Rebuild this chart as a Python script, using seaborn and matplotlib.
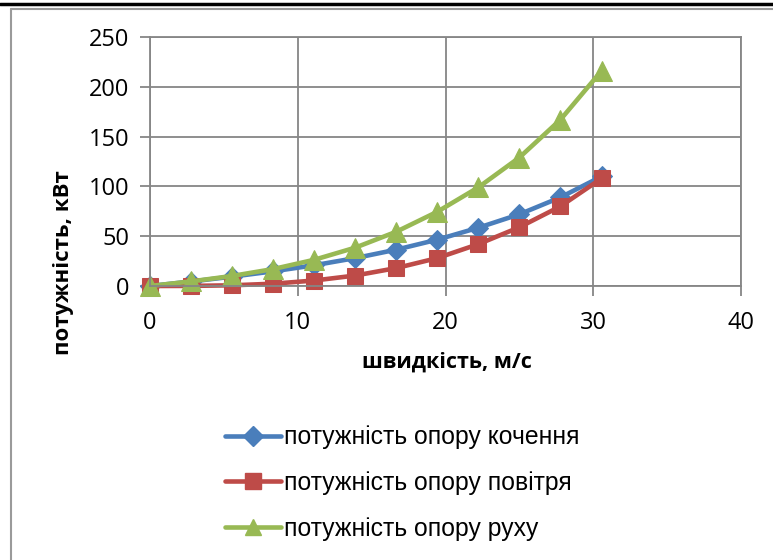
import numpy as np
import pandas as pd
import matplotlib
matplotlib.use('Agg')
import matplotlib.pyplot as plt
import seaborn as sns
from matplotlib.lines import Line2D

# дані
speed = [0, 2.78, 5.56, 8.33, 11.11, 13.89, 16.67, 19.44, 22.22, 25.0, 27.78, 30.56]
p_rolling = [0, 4.5, 9.4, 14.7, 20.8, 28, 36.5, 46.5, 58.5, 72, 89, 110]
p_air = [0, 0.1, 0.7, 2.3, 5.5, 10.5, 18, 28, 42, 59, 80, 108]
p_total = [0, 4.6, 10.1, 17, 26.3, 38.5, 54.5, 74.5, 99, 129, 167, 216]

names = ['потужність опору кочення', 'потужність опору повітря', 'потужність опору руху']
colors = ['#4A7EBB', '#BE4B48', '#98B954']
markers = ['D', 's', '^']
msizes = [10, 12, 14]

df = pd.concat([
    pd.DataFrame({'v': speed, 'P': p_rolling, 'series': names[0]}),
    pd.DataFrame({'v': speed, 'P': p_air, 'series': names[1]}),
    pd.DataFrame({'v': speed, 'P': p_total, 'series': names[2]}),
])

sns.set_style("white")
plt.rcParams['font.family'] = ['Open Sans', 'DejaVu Sans']
plt.rcParams['text.color'] = 'black'
plt.rcParams['xtick.labelcolor'] = 'black'
plt.rcParams['ytick.labelcolor'] = 'black'

fig = plt.figure(figsize=(7.73, 5.6), dpi=100)
ax = fig.add_axes([150 / 773, 1 - 286 / 560, 591 / 773, 249 / 560])

for name, c, m, ms in zip(names, colors, markers, msizes):
    sub = df[df['series'] == name]
    sns.lineplot(data=sub, x='v', y='P', color=c, marker=m, markersize=ms,
                 markeredgecolor=c, linewidth=3.3, ax=ax, legend=False, clip_on=False)

ax.set_xlim(0, 40)
ax.set_ylim(0, 250)
ax.set_xticks([0, 10, 20, 30, 40])
ax.set_yticks([0, 50, 100, 150, 200, 250])
ax.grid(True, color='#868686', linewidth=1.3)
for s in ax.spines.values():
    s.set_color('#868686')
    s.set_linewidth(1.3)
ax.tick_params(axis='both', which='major', labelsize=17, length=7, width=1.3,
               color='#868686', labelcolor='black', direction='out')
ax.tick_params(axis='x', pad=11)
ax.tick_params(axis='y', pad=8)
ax.tick_params(left=True, bottom=True)
ax.set_xlabel('')
ax.set_ylabel('')
ax.set_axisbelow(True)

fig.text(447 / 773, 1 - 362 / 560, 'швидкість, м/с', ha='center', va='center',
         fontsize=15.5, fontweight='bold', color='black')
fig.text(63 / 773, 1 - 263 / 560, 'потужність, кВт', ha='center', va='center',
         fontsize=16, fontweight='bold', rotation=90, color='black')

handles = [Line2D([0], [0], color=c, marker=m, markersize=ms, linewidth=3.3,
                  markeredgecolor=c)
           for c, m, ms in zip(colors, markers, [10, 11, 12])]
fig.legend(handles, names, loc='upper left', bbox_to_anchor=(203 / 773, 1 - 403 / 560),
           frameon=False, handlelength=2.26, handletextpad=0.12,
           labelspacing=0.88, labelcolor='black',
           prop={'family': ['Liberation Sans', 'DejaVu Sans'], 'size': 17.8})

# рамка
fig.add_artist(Line2D([0, 1], [1 - 4 / 560, 1 - 4 / 560], color='black', linewidth=2.5,
                      transform=fig.transFigure))
fig.add_artist(Line2D([11 / 773, 1], [1 - 9 / 560, 1 - 9 / 560], color='#9a9a9a',
                      linewidth=1.5, transform=fig.transFigure))
fig.add_artist(Line2D([11 / 773, 11 / 773], [0, 1 - 9 / 560], color='#9a9a9a',
                      linewidth=1.5, transform=fig.transFigure))

fig.savefig('out.png', dpi=100)
